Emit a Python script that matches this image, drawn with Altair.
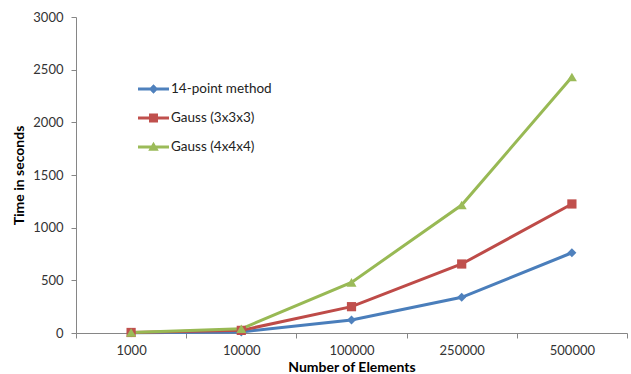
import altair as alt
import pandas as pd

# Mesh sizes (x categories) and run times per integration scheme
elements = ["1000", "10000", "100000", "250000", "500000"]
series_names = ["14-point method", "Gauss (3x3x3)", "Gauss (4x4x4)"]
time_14pt = [2, 10, 123, 339, 762]
time_gauss3 = [5, 25, 250, 655, 1225]
time_gauss4 = [5, 40, 480, 1215, 2430]

line_colors = ["#4A7EBB", "#BE4B48", "#98B954"]
marker_colors = ["#4F81BD", "#C0504D", "#9BBB59"]
marker_shapes = ["diamond", "square", "triangle-up"]
y_ticks = [0, 500, 1000, 1500, 2000, 2500, 3000]

# legend glyphs: a short line segment with the series marker on top
# (unit-box SVG paths, all drawn clockwise so the fill is a union)
legend_glyphs = [
    "M-1,-0.1H1V0.1H-1Z M0,-0.3L0.3,0L0,0.3L-0.3,0Z",
    "M-1,-0.1H1V0.1H-1Z M-0.29,-0.29H0.29V0.29H-0.29Z",
    "M-1,-0.1H1V0.1H-1Z M0,-0.34L0.34,0.24L-0.34,0.24Z",
]

rows = []
for name, values in zip(series_names, [time_14pt, time_gauss3, time_gauss4]):
    for e, v in zip(elements, values):
        rows.append({"Elements": e, "Method": name, "Time": v})
df = pd.DataFrame(rows)

FONT = "Lato"
AXIS_GREY = "#868686"

x_enc = alt.X(
    "Elements:N",
    sort=elements,
    scale=alt.Scale(type="band", paddingInner=0, paddingOuter=0),
    axis=alt.Axis(
        title="Number of Elements",
        tickBand="extent",
        labelAngle=0,
        tickSize=5,
        labelPadding=6,
        titlePadding=3,
    ),
)
y_enc = alt.Y(
    "Time:Q",
    scale=alt.Scale(domain=[0, 3000], nice=False),
    axis=alt.Axis(
        title="Time in seconds",
        values=y_ticks,
        format="d",
        grid=False,
        tickSize=5,
        labelPadding=8,
        titlePadding=6,
    ),
)

color_scale = alt.Scale(domain=series_names, range=marker_colors)

lines = alt.Chart(df).mark_line(strokeWidth=3).encode(
    x=x_enc,
    y=y_enc,
    stroke=alt.Stroke(
        "Method:N",
        scale=alt.Scale(domain=series_names, range=line_colors),
        legend=None,
    ),
)

# one marker layer per series so each keeps its own symbol
marker_layers = []
for name, shape, size in zip(series_names, marker_shapes, [80, 85, 100]):
    marker_layers.append(
        alt.Chart(df)
        .transform_filter(alt.datum.Method == name)
        .mark_point(filled=True, shape=shape, size=size, opacity=1)
        .encode(
            x=x_enc,
            y=y_enc,
            color=alt.Color("Method:N", scale=color_scale, legend=None),
        )
    )

legend_props = dict(
    title=None,
    orient="none",
    legendX=62,
    legendY=57.5,
    symbolSize=961,
    symbolStrokeWidth=0,
    symbolOpacity=1,
    clipHeight=29,
    rowPadding=0,
    labelOffset=2,
)

# legend-only layer: draws no marks, carries the colour + glyph legend
legend_layer = (
    alt.Chart(df)
    .transform_filter("false")
    .mark_point(filled=True, opacity=1)
    .encode(
        color=alt.Color("Method:N", scale=color_scale, legend=alt.Legend(**legend_props)),
        shape=alt.Shape(
            "Method:N",
            scale=alt.Scale(domain=series_names, range=legend_glyphs),
            legend=alt.Legend(**legend_props),
        ),
    )
)

chart = (
    alt.layer(lines, *marker_layers, legend_layer)
    .resolve_legend(color="independent", shape="independent")
    .properties(
        width=551,
        height=316,
        padding={"left": 76, "top": 17, "right": 4, "bottom": 41},
        autosize=alt.AutoSizeParams(type="none"),
        background="white",
    )
    .configure_view(stroke=None)
    .configure_axis(
        domainColor=AXIS_GREY,
        tickColor=AXIS_GREY,
        labelColor="#333333",
        titleColor="#000000",
        labelFont=FONT,
        titleFont=FONT,
        labelFontSize=13,
        titleFontSize=14,
        titleFontWeight="bold",
    )
    .configure_legend(labelFont=FONT, labelFontSize=13.5, labelColor="#222222", padding=0)
)

chart.save("out.html", embed_options={"renderer": "svg", "actions": False})
